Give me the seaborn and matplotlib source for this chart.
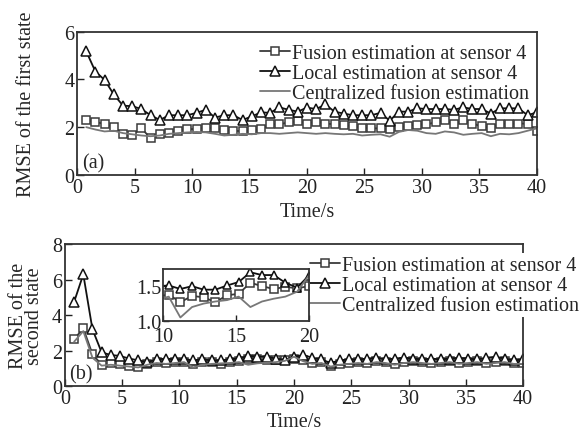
import numpy as np
import pandas as pd
import seaborn as sns
import matplotlib
matplotlib.use('Agg')
import matplotlib.pyplot as plt

# time axis: 50 samples, every 0.8 s
t = np.arange(1, 51) * 0.8

# panel (a): RMSE of the first state
fus_a = [2.30, 2.20, 2.15, 2.00, 1.72, 1.68, 1.95, 1.54, 1.70, 1.75,
         1.82, 1.92, 1.92, 1.98, 1.95, 1.87, 1.84, 1.84, 1.87, 1.92,
         2.12, 2.12, 2.20, 2.26, 2.15, 2.23, 2.15, 2.12, 2.10, 2.03,
         1.98, 1.95, 1.95, 1.92, 2.00, 2.06, 2.10, 2.12, 2.20, 2.30,
         2.12, 2.28, 2.15, 2.03, 1.98, 2.15, 2.15, 2.15, 2.15, 1.85]
loc_a = [5.18, 4.33, 3.98, 3.37, 2.90, 2.88, 2.76, 2.50, 2.30, 2.50,
         2.50, 2.50, 2.60, 2.73, 2.40, 2.50, 2.50, 2.30, 2.45, 2.62,
         2.60, 2.83, 2.73, 2.65, 2.82, 2.76, 2.95, 2.65, 2.57, 2.50,
         2.50, 2.50, 2.60, 2.27, 2.65, 2.65, 2.79, 2.76, 2.76, 2.76,
         2.73, 2.83, 2.76, 2.76, 2.57, 2.79, 2.79, 2.79, 2.50, 2.62]
cen_a = [2.00, 1.90, 1.82, 1.85, 1.75, 1.70, 1.65, 1.62, 1.65, 1.72,
         1.75, 1.78, 1.80, 1.78, 1.72, 1.65, 1.68, 1.72, 1.70, 1.75,
         1.75, 1.72, 1.75, 1.78, 1.75, 1.72, 1.75, 1.72, 1.70, 1.72,
         1.65, 1.68, 1.70, 1.60, 1.80, 1.88, 1.85, 1.75, 1.72, 1.82,
         1.78, 1.68, 1.72, 1.75, 1.62, 1.72, 1.70, 1.75, 1.85, 1.95]

# panel (b): RMSE of the second state
fus_b = [2.65, 3.25, 1.80, 1.20, 1.30, 1.25, 1.15, 1.10, 1.25, 1.35,
         1.30, 1.35, 1.38, 1.27, 1.36, 1.34, 1.27, 1.37, 1.39, 1.55,
         1.50, 1.46, 1.49, 1.47, 1.50, 1.45, 1.30, 1.35, 1.15, 1.25,
         1.30, 1.35, 1.30, 1.40, 1.35, 1.25, 1.35, 1.40, 1.35, 1.30,
         1.35, 1.40, 1.30, 1.35, 1.40, 1.30, 1.35, 1.40, 1.30, 1.30]
loc_b = [4.75, 6.30, 3.20, 1.90, 1.75, 1.70, 1.55, 1.45, 1.35, 1.50,
         1.55, 1.50, 1.51, 1.46, 1.50, 1.45, 1.45, 1.51, 1.56, 1.70,
         1.66, 1.66, 1.55, 1.48, 1.65, 1.75, 1.60, 1.50, 1.30, 1.45,
         1.50, 1.50, 1.55, 1.60, 1.50, 1.55, 1.60, 1.55, 1.50, 1.55,
         1.50, 1.55, 1.60, 1.55, 1.50, 1.60, 1.65, 1.55, 1.45, 1.50]
cen_b = [2.50, 3.10, 1.60, 1.15, 1.20, 1.15, 1.10, 1.05, 1.20, 1.30,
         1.25, 1.30, 1.35, 1.05, 1.20, 1.25, 1.28, 1.30, 1.35, 1.20,
         1.28, 1.32, 1.35, 1.42, 1.65, 1.40, 1.25, 1.30, 1.10, 1.20,
         1.25, 1.30, 1.25, 1.35, 1.30, 1.20, 1.30, 1.35, 1.30, 1.25,
         1.30, 1.35, 1.25, 1.30, 1.35, 1.25, 1.30, 1.35, 1.25, 1.25]

labels = ['Fusion estimation at sensor 4', 'Local estimation at sensor 4',
          'Centralized fusion estimation']

sns.set_theme(style='ticks')
plt.rcParams['font.family'] = ['Liberation Serif', 'DejaVu Serif']
plt.rcParams['xtick.direction'] = 'in'
plt.rcParams['ytick.direction'] = 'in'
plt.rcParams['axes.edgecolor'] = '#333333'
plt.rcParams['axes.linewidth'] = 1.3

FS = 14.5


def draw(ax, fus, loc, cen, ms=6.2, lw=1.3):
    sns.lineplot(x=t, y=fus, ax=ax, color='#3a3a3a', lw=lw, marker='s', ms=ms * 0.95,
                 markerfacecolor='white', markeredgecolor='#3a3a3a', markeredgewidth=1.1,
                 label=labels[0])
    sns.lineplot(x=t, y=loc, ax=ax, color='#111111', lw=lw, marker='^', ms=ms * 1.15,
                 markerfacecolor='white', markeredgecolor='#111111', markeredgewidth=1.1,
                 label=labels[1])
    sns.lineplot(x=t, y=cen, ax=ax, color='#777777', lw=1.3, label=labels[2])


fig = plt.figure(figsize=(5.88, 4.31), dpi=100)

# ---- (a)
ax1 = fig.add_axes([0.131, 0.592, 0.782, 0.332])
draw(ax1, fus_a, loc_a, cen_a)
ax1.set_xlim(0, 40)
ax1.set_ylim(0, 6)
ax1.set_xticks(range(0, 41, 5))
ax1.set_yticks([0, 2, 4, 6])
ax1.tick_params(labelsize=FS, length=5, width=1, colors='#222222', pad=2)
ax1.set_xlabel('Time/s', fontsize=FS, labelpad=4)
ax1.set_ylabel('RMSE of the first state', fontsize=FS, labelpad=20)
ax1.text(0.01, 0.02, '(a)', transform=ax1.transAxes, fontsize=FS, va='bottom')
ax1.legend(loc='upper right', bbox_to_anchor=(1.01, 1.0), frameon=False, fontsize=FS,
           handlelength=1.5, handletextpad=0.1, labelspacing=0.05, borderaxespad=0.2)

# ---- (b)
ax2 = fig.add_axes([0.1105, 0.102, 0.779, 0.329])
draw(ax2, fus_b, loc_b, cen_b)
ax2.set_xlim(0, 40)
ax2.set_ylim(0, 8)
ax2.set_xticks(range(0, 41, 5))
ax2.set_yticks([0, 2, 4, 6, 8])
ax2.tick_params(labelsize=FS, length=5, width=1, colors='#222222', pad=2)
ax2.set_xlabel('Time/s', fontsize=FS, labelpad=3)
ax2.set_ylabel('RMSE of the\nsecond state', fontsize=FS, labelpad=6, linespacing=0.8)
ax2.text(0.01, 0.02, '(b)', transform=ax2.transAxes, fontsize=FS, va='bottom')
leg = ax2.legend(loc='upper left', bbox_to_anchor=(0.53, 0.935), frameon=True, fontsize=FS,
                 handlelength=1.5, handletextpad=0.1, labelspacing=0.05, borderaxespad=0.0,
                 borderpad=0.1, fancybox=False)
leg.get_frame().set_edgecolor('none')
leg.get_frame().set_facecolor('white')
leg.get_frame().set_alpha(1.0)

# inset zoom on 10-20 s
axin = fig.add_axes([0.277, 0.253, 0.248, 0.121])
draw(axin, fus_b, loc_b, cen_b, ms=5.6)
if axin.get_legend():
    axin.get_legend().remove()
axin.set_xlim(10, 20)
axin.set_ylim(1.0, 1.75)
axin.set_xticks([10, 15, 20])
axin.set_yticks([1.0, 1.5])
axin.set_yticklabels(['1.0', '1.5'])
axin.tick_params(axis='y', labelsize=FS, length=4, width=1, colors='#222222', pad=1)
axin.tick_params(axis='x', labelsize=FS, length=4, width=1, colors='#222222', pad=4)
axin.set_xlabel('')
axin.set_ylabel('')

fig.savefig('out.png', dpi=100, facecolor='white')
